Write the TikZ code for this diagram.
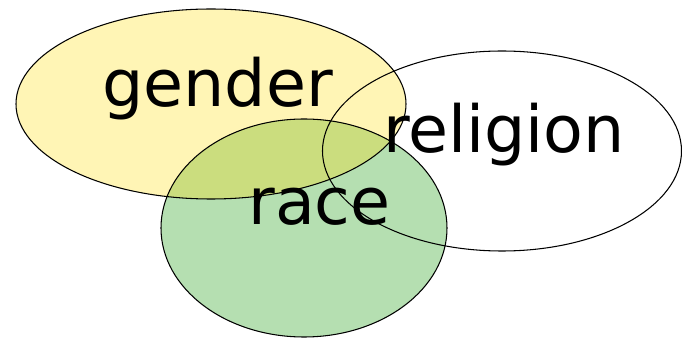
\documentclass[tikz,border=0pt]{standalone}
\usepackage{fontspec}
\setmainfont{DejaVu Sans}
\usepackage{tikz}
\definecolor{genderyellow}{HTML}{FFF5B5}
\definecolor{racegreen}{HTML}{B5DFB1}
\definecolor{bothlime}{HTML}{CBDD7E}

\begin{document}
\begin{tikzpicture}[line width=0.6pt, font=\fontsize{37}{40}\selectfont]
\useasboundingbox (0,0) rectangle (13.64,6.78);
\fill[genderyellow] (4.22,4.70) ellipse [x radius=3.90, y radius=1.90];
\fill[racegreen] (6.08,2.22) ellipse [x radius=2.86, y radius=2.18];
\begin{scope}
\clip (4.22,4.70) ellipse [x radius=3.90, y radius=1.90];
\fill[bothlime] (6.08,2.22) ellipse [x radius=2.86, y radius=2.18];
\end{scope}
\draw (4.22,4.70) ellipse [x radius=3.90, y radius=1.90];
\draw (6.08,2.22) ellipse [x radius=2.86, y radius=2.18];
\draw (10.04,3.76) ellipse [x radius=3.59, y radius=2.00];
\node (gender) [anchor=base] at (4.35,4.64) {gender};
\node (religion) [anchor=base] at (10.08,3.72) {religion};
\node (race) [anchor=base] at (6.39,2.28) {race};
\end{tikzpicture}
\end{document}
